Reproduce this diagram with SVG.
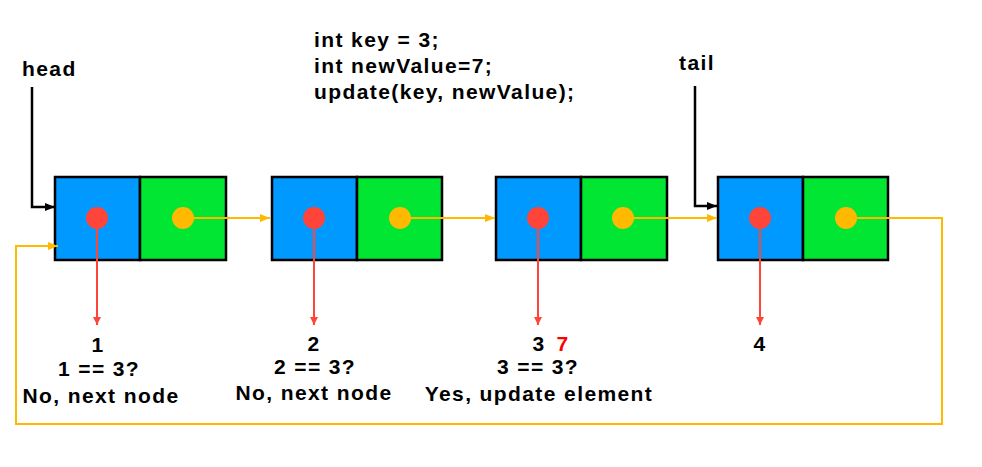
<svg xmlns="http://www.w3.org/2000/svg" width="982" height="467" viewBox="0 0 982 467">
<defs>
<style>
.t{font-family:"Liberation Sans",Arial,sans-serif;font-weight:bold;font-size:21px;letter-spacing:1.4px;fill:#000}
.c{text-anchor:middle}
.blue{fill:#0099ff;stroke:#000;stroke-width:2.5}
.green{fill:#00e632;stroke:#000;stroke-width:2.5}
.rd{fill:#ff453a}
.yd{fill:#ffb900}
.yl{fill:none;stroke:#ffb900;stroke-width:2}
.rl{fill:none;stroke:#ff453a;stroke-width:2}
.bl{fill:none;stroke:#000;stroke-width:2.5}
</style>
<marker id="ay" markerWidth="10" markerHeight="8" refX="10" refY="4" orient="auto" markerUnits="userSpaceOnUse"><path d="M0,0 L10,4 L0,8 Z" fill="#ffb900"/></marker>
<marker id="ar" markerWidth="8" markerHeight="10" refX="8" refY="4" orient="auto" markerUnits="userSpaceOnUse"><path d="M0,0 L8,4 L0,8 Z" fill="#ff453a"/></marker>
<marker id="ab" markerWidth="10" markerHeight="8" refX="10" refY="4" orient="auto" markerUnits="userSpaceOnUse"><path d="M0,0 L10,4 L0,8 Z" fill="#000"/></marker>
</defs>
<rect width="982" height="467" fill="#fff"/>
<g id="code">
<text class="t" x="314" y="47">int key = 3;</text>
<text class="t" x="314" y="73">int newValue=7;</text>
<text class="t" x="314" y="99">update(key, newValue);</text>
</g>
<g id="head"><text class="t" x="22" y="76">head</text></g>
<g id="tail"><text class="t" x="679" y="70">tail</text></g>
<g id="node1">
<rect class="blue" x="55" y="177" width="85" height="83"/>
<rect class="green" x="140" y="177" width="86" height="83"/>
<circle class="rd" cx="97" cy="218" r="11"/>
<circle class="yd" cx="183" cy="218" r="11"/>
</g>
<g id="node2">
<rect class="blue" x="272" y="177" width="85" height="83"/>
<rect class="green" x="357" y="177" width="85" height="83"/>
<circle class="rd" cx="314" cy="218" r="11"/>
<circle class="yd" cx="400" cy="218" r="11"/>
</g>
<g id="node3">
<rect class="blue" x="496" y="177" width="85" height="83"/>
<rect class="green" x="581" y="177" width="86" height="83"/>
<circle class="rd" cx="538" cy="218" r="11"/>
<circle class="yd" cx="623" cy="218" r="11"/>
</g>
<g id="node4">
<rect class="blue" x="718" y="177" width="85" height="83"/>
<rect class="green" x="803" y="177" width="85" height="83"/>
<circle class="rd" cx="760" cy="218" r="11"/>
<circle class="yd" cx="846" cy="218" r="11"/>
</g>
<g id="labels">
<text class="t c" x="98" y="352">1</text>
<text class="t c" x="99" y="376">1 == 3?</text>
<text class="t c" x="101" y="403">No, next node</text>
<text class="t c" x="314" y="351">2</text>
<text class="t c" x="315" y="374">2 == 3?</text>
<text class="t c" x="314" y="400">No, next node</text>
<text class="t c" x="539" y="351">3</text>
<text class="t c" x="563" y="351" style="fill:#ff0000">7</text>
<text class="t c" x="538" y="374">3 == 3?</text>
<text class="t c" x="539" y="401">Yes, update element</text>
<text class="t c" x="760" y="351">4</text>
</g>
<g id="connectors">
<path class="bl" d="M32,87 V207 H55" marker-end="url(#ab)"/>
<path class="bl" d="M695,86 V206 H717" marker-end="url(#ab)"/>
<path class="yl" d="M183,218 H270" marker-end="url(#ay)"/>
<path class="yl" d="M400,218 H495" marker-end="url(#ay)"/>
<path class="yl" d="M623,218 H717" marker-end="url(#ay)"/>
<path class="yl" d="M846,218 H942 V424 H16 V246 H58" marker-end="url(#ay)"/>
<path class="rl" d="M97,218 V325" marker-end="url(#ar)"/>
<path class="rl" d="M314,218 V325" marker-end="url(#ar)"/>
<path class="rl" d="M538,218 V325" marker-end="url(#ar)"/>
<path class="rl" d="M760,218 V325" marker-end="url(#ar)"/>
</g>
</svg>
